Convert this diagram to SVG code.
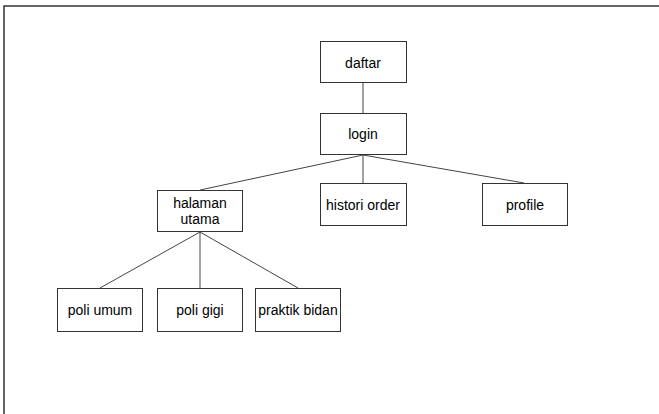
<svg xmlns="http://www.w3.org/2000/svg" width="659" height="414" viewBox="0 0 659 414">
  <style>
    .box { fill: #ffffff; stroke: #333333; stroke-width: 1; }
    .lbl { font-family: "Liberation Sans", Arial, sans-serif; font-size: 14px; fill: #000000; text-anchor: middle; dominant-baseline: central; }
    .edge { stroke: #444444; stroke-width: 1; fill: none; }
    .frame { stroke: #333333; stroke-width: 1.5; fill: none; }
  </style>
  <rect width="659" height="414" fill="#ffffff"/>
  <!-- page frame: top and left edges only -->
  <path class="frame" d="M4,414 V6 H659"/>

  <g id="connectors">
    <line class="edge" x1="363" y1="82" x2="363" y2="113"/>
    <line class="edge" x1="363" y1="155" x2="200" y2="190"/>
    <line class="edge" x1="363" y1="155" x2="363" y2="183"/>
    <line class="edge" x1="363" y1="155" x2="524" y2="183"/>
    <line class="edge" x1="200" y1="232" x2="100" y2="288"/>
    <line class="edge" x1="200" y1="232" x2="200" y2="288"/>
    <line class="edge" x1="200" y1="232" x2="298" y2="288"/>
  </g>

  <g id="daftar">
    <rect class="box" x="320.5" y="41.5" width="86" height="41"/>
    <text class="lbl" x="363" y="63">daftar</text>
  </g>
  <g id="login">
    <rect class="box" x="320.5" y="113.5" width="86" height="41"/>
    <text class="lbl" x="363" y="134">login</text>
  </g>
  <g id="halaman-utama">
    <rect class="box" x="157.5" y="190.5" width="85" height="41"/>
    <text class="lbl" x="200" y="203">halaman</text>
    <text class="lbl" x="200" y="219">utama</text>
  </g>
  <g id="histori-order">
    <rect class="box" x="320.5" y="183.5" width="86" height="42"/>
    <text class="lbl" x="363" y="205">histori order</text>
  </g>
  <g id="profile">
    <rect class="box" x="482.5" y="183.5" width="85" height="42"/>
    <text class="lbl" x="525" y="205">profile</text>
  </g>
  <g id="poli-umum">
    <rect class="box" x="57.5" y="288.5" width="85" height="43"/>
    <text class="lbl" x="100" y="310">poli umum</text>
  </g>
  <g id="poli-gigi">
    <rect class="box" x="157.5" y="288.5" width="85" height="43"/>
    <text class="lbl" x="200" y="310">poli gigi</text>
  </g>
  <g id="praktik-bidan">
    <rect class="box" x="255.5" y="288.5" width="85" height="43"/>
    <text class="lbl" x="298" y="310">praktik bidan</text>
  </g>
</svg>
